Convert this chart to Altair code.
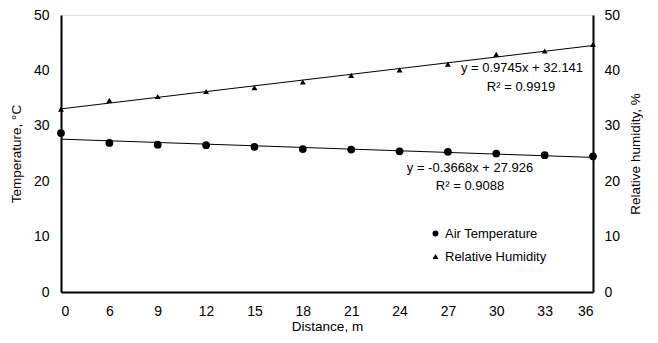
import altair as alt
import pandas as pd

distance_labels = ["0", "6", "9", "12", "15", "18", "21", "24", "27", "30", "33", "36"]
air_temperature = [28.7, 26.9, 26.6, 26.5, 26.2, 25.8, 25.7, 25.4, 25.3, 25.0, 24.7, 24.5]
relative_humidity = [33.0, 34.6, 35.3, 36.2, 36.9, 37.9, 39.1, 40.1, 41.1, 42.9, 43.5, 44.7]

df = pd.DataFrame({
    "idx": list(range(len(distance_labels))),
    "dist": distance_labels,
    "temp": air_temperature,
    "hum": relative_humidity,
})

FONT = "Liberation Sans"
W, H = 532, 277
LBL = 14
TTL = 13.5
label_expr = "[" + ",".join("'%s'" % d for d in distance_labels) + "][datum.value]"

x_enc = alt.X("idx:Q",
              scale=alt.Scale(domain=[0, 11], nice=False, zero=False),
              axis=alt.Axis(values=list(range(12)), labelExpr=label_expr,
                            title="Distance, m", grid=False, ticks=False,
                            domainColor="black", domainWidth=2,
                            labelPadding=12, titlePadding=1,
                            labelFontSize=LBL, titleFontSize=TTL,
                            labelFont=FONT, titleFont=FONT,
                            labelColor="black", titleColor="black",
                            titleFontWeight="normal"))

yscale = alt.Scale(domain=[0, 50], nice=False)

shape_scale = alt.Scale(domain=["Air Temperature", "Relative Humidity"],
                        range=["circle", "triangle-up"])

legend = alt.Legend(title=None, orient="none", legendX=368, legendY=212,
                    labelFont=FONT, labelFontSize=13, labelColor="black",
                    symbolFillColor="black", symbolStrokeColor="black",
                    symbolSize=35, rowPadding=9, labelOffset=3)

base = alt.Chart(df)

temp_pts = base.transform_calculate(series="'Air Temperature'").mark_point(
    filled=True, color="black", size=60, opacity=1
).encode(
    x=x_enc,
    y=alt.Y("temp:Q", scale=yscale,
            axis=alt.Axis(values=[0, 10, 20, 30, 40, 50], title="Temperature, °C",
                          grid=False, ticks=False, domainColor="black", domainWidth=2,
                          labelPadding=12, titlePadding=10,
                          labelFontSize=LBL, titleFontSize=TTL,
                          labelFont=FONT, titleFont=FONT,
                          labelColor="black", titleColor="black",
                          titleFontWeight="normal")),
    shape=alt.Shape("series:N", scale=shape_scale, legend=legend),
)

temp_line = base.transform_regression("idx", "temp", extent=[0, 11]).mark_line(
    color="black", strokeWidth=1
).encode(x="idx:Q", y=alt.Y("temp:Q", scale=yscale))

hum_pts = base.transform_calculate(series="'Relative Humidity'").mark_point(
    filled=True, color="black", size=35, opacity=1
).encode(
    x=alt.X("idx:Q"),
    y=alt.Y("hum:Q", scale=yscale,
            axis=alt.Axis(orient="right", values=[0, 10, 20, 30, 40, 50],
                          title="Relative humidity, %", titleAngle=270,
                          grid=False, ticks=False, domainColor="black", domainWidth=2,
                          labelPadding=11, titlePadding=23,
                          labelFontSize=LBL, titleFontSize=TTL,
                          labelFont=FONT, titleFont=FONT,
                          labelColor="black", titleColor="black",
                          titleFontWeight="normal")),
    shape=alt.Shape("series:N", scale=shape_scale, legend=legend),
)

hum_line = base.transform_regression("idx", "hum", extent=[0, 11]).mark_line(
    color="black", strokeWidth=1
).encode(x="idx:Q", y=alt.Y("hum:Q", scale=yscale))

annot = pd.DataFrame({"t": ["y = 0.9745x + 32.141", "R² = 0.9919",
                            "y = -0.3668x + 27.926", "R² = 0.9088"]})


def txt(i, px, py):
    return alt.Chart(annot.iloc[[i]]).mark_text(
        font=FONT, fontSize=13, color="black", align="center", baseline="middle"
    ).encode(text="t:N", x=alt.value(px), y=alt.value(py))


texts = txt(0, 461, 53) + txt(1, 460, 72) + txt(2, 409, 153) + txt(3, 409, 171)

left = alt.layer(temp_line, temp_pts)
right = alt.layer(hum_line, hum_pts)

chart = alt.layer(left, right, texts).resolve_scale(y="independent").properties(
    width=W, height=H,
    autosize=alt.AutoSizeParams(type="none"),
    padding={"left": 53, "top": 7, "right": 57, "bottom": 43},
).configure_view(stroke="black", strokeWidth=2).configure(background="white")

chart.save("out.html", embed_options={"renderer": "svg", "actions": False})
